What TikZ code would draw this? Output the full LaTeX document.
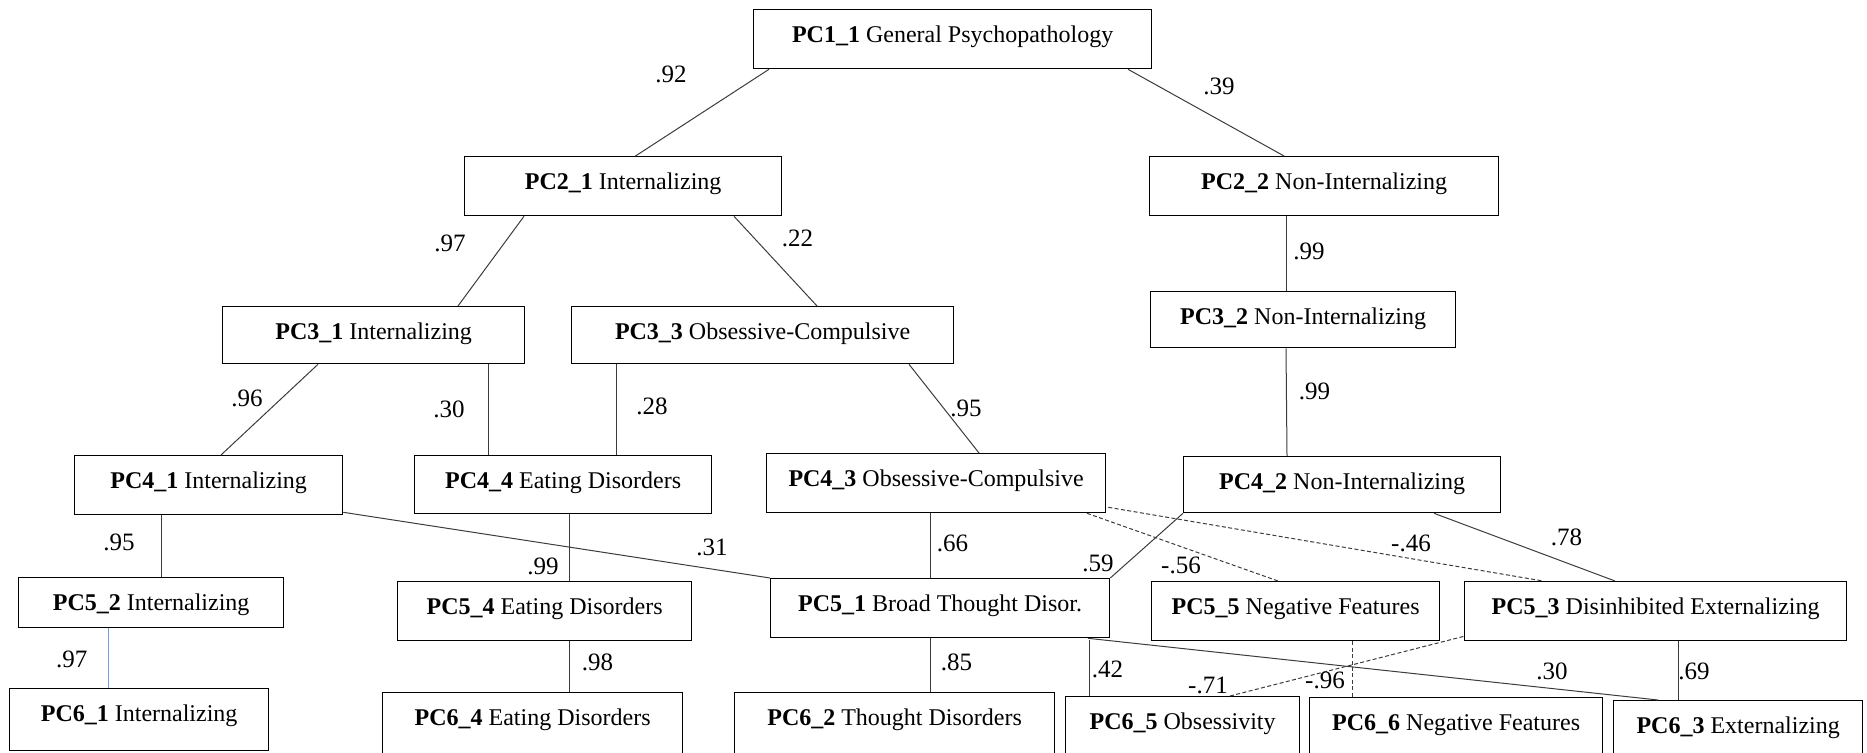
\documentclass[tikz,border=0pt]{standalone}
\usepackage{fontspec}
\setmainfont{Liberation Serif}
\usetikzlibrary{calc}
\definecolor{linegray}{RGB}{60,60,60}
\definecolor{lightblue}{RGB}{120,155,225}
\tikzset{
  pcbox/.style 2 args={draw=black, line width=0.65pt, anchor=north west, inner sep=0pt,
    minimum width=#1, text height=16.5pt, text depth=#2, font=\fontsize{12}{14}\selectfont},
  conn/.style={draw=linegray, line width=0.5pt},
  dconn/.style={draw=linegray, line width=0.5pt, dash pattern=on 2pt off 1.2pt},
  bconn/.style={draw=lightblue, line width=0.5pt},
  lbl/.style={anchor=base, inner sep=0pt, font=\fontsize{12.5}{14}\selectfont}
}
\begin{document}
\begin{tikzpicture}[x=0.5pt, y=-0.5pt]
\useasboundingbox (0,0) rectangle (1867,753);
\clip (0,0) rectangle (1867,753);
% boxes
\node[pcbox={199pt}{13pt}] (p11) at (753,9) {\textbf{PC1\_1} General Psychopathology};
\node[pcbox={158.5pt}{13pt}] (p21) at (464,156) {\textbf{PC2\_1} Internalizing};
\node[pcbox={174.5pt}{13pt}] (p22) at (1149,156) {\textbf{PC2\_2} Non-Internalizing};
\node[pcbox={151pt}{12pt}] (p31) at (222,306) {\textbf{PC3\_1} Internalizing};
\node[pcbox={191pt}{12pt}] (p33) at (571,306) {\textbf{PC3\_3} Obsessive-Compulsive};
\node[pcbox={152.5pt}{11.5pt}] (p32) at (1150,291) {\textbf{PC3\_2} Non-Internalizing};
\node[pcbox={134pt}{13pt}] (p41) at (74,455) {\textbf{PC4\_1} Internalizing};
\node[pcbox={148.5pt}{12.5pt}] (p44) at (414,455) {\textbf{PC4\_4} Eating Disorders};
\node[pcbox={169.5pt}{13pt}] (p43) at (766,453) {\textbf{PC4\_3} Obsessive-Compulsive};
\node[pcbox={158.5pt}{11.5pt}] (p42) at (1183,456) {\textbf{PC4\_2} Non-Internalizing};
\node[pcbox={132.5pt}{8.5pt}] (p52) at (18,577) {\textbf{PC5\_2} Internalizing};
\node[pcbox={147pt}{13pt}] (p54) at (397,581) {\textbf{PC5\_4} Eating Disorders};
\node[pcbox={169.5pt}{13pt}] (p51) at (770,578) {\textbf{PC5\_1} Broad Thought Disor.};
\node[pcbox={144pt}{13pt}] (p55) at (1151,581) {\textbf{PC5\_5} Negative Features};
\node[pcbox={191pt}{13pt}] (p53) at (1464,581) {\textbf{PC5\_3} Disinhibited Externalizing};
\node[pcbox={129.5pt}{14.5pt}] (p61) at (9,688) {\textbf{PC6\_1} Internalizing};
\node[pcbox={150pt}{33.5pt}] (p64) at (382,692) {\textbf{PC6\_4} Eating Disorders};
\node[pcbox={160pt}{33.5pt}] (p62) at (734,692) {\textbf{PC6\_2} Thought Disorders};
\node[pcbox={117pt}{33.5pt}] (p65) at (1065,696) {\textbf{PC6\_5} Obsessivity};
\node[pcbox={146.5pt}{33.5pt}] (p66) at (1309,697) {\textbf{PC6\_6} Negative Features};
\node[pcbox={124.5pt}{33.5pt}] (p63) at (1613,700) {\textbf{PC6\_3} Externalizing};
% connectors
\draw[conn] ($(p11.south west)+(16,0)$) -- ($(p21.north west)+(171.5,0)$);
\draw[conn] ($(p11.south west)+(375,0)$) -- ($(p22.north west)+(135,0)$);
\draw[conn] ($(p21.south west)+(60,0)$) -- ($(p31.north west)+(236,0)$);
\draw[conn] ($(p21.south west)+(270,0)$) -- ($(p33.north west)+(246,0)$);
\draw[conn] ($(p22.south west)+(137,0)$) -- ($(p32.north west)+(136,0)$);
\draw[conn] ($(p32.south west)+(136,0)$) -- ($(p42.north west)+(104,0)$);
\draw[conn] ($(p31.south west)+(96,0)$) -- ($(p41.north west)+(147,0)$);
\draw[conn] ($(p31.south west)+(266,0)$) -- ($(p44.north west)+(74,0)$);
\draw[conn] ($(p33.south west)+(45,0)$) -- ($(p44.north west)+(202,0)$);
\draw[conn] ($(p33.south west)+(338,0)$) -- ($(p43.north west)+(213,0)$);
\draw[conn] ($(p41.south west)+(87,0)$) -- ($(p52.north west)+(143,0)$);
\draw[conn] ($(p41.south east)+(0,-3)$) -- (p51.north west);
\draw[conn] ($(p44.south west)+(155,0)$) -- ($(p54.north west)+(172,0)$);
\draw[conn] ($(p43.south west)+(164,0)$) -- ($(p51.north west)+(160,0)$);
\draw[conn] (p42.south west) -- (p51.north east);
\draw[dconn] ($(p43.south west)+(321,0)$) -- ($(p55.north west)+(127,0)$);
\draw[dconn] ($(p43.south east)+(2,-6)$) -- ($(p53.north west)+(79,0)$);
\draw[conn] ($(p42.south west)+(251,0)$) -- ($(p53.north west)+(151,0)$);
\draw[conn] ($(p54.south west)+(172,0)$) -- ($(p64.north west)+(187,0)$);
\draw[conn] ($(p51.south west)+(160,0)$) -- ($(p62.north west)+(196,0)$);
\draw[conn] ($(p51.south west)+(319,2)$) -- ($(p65.north west)+(24,0)$);
\draw[conn] ($(p51.south west)+(318,0)$) -- ($(p63.north west)+(45,0)$);
\draw[dconn] ($(p65.north west)+(165,0)$) -- ($(p53.south west)+(0,-5)$);
\draw[dconn] ($(p55.south west)+(201,0)$) -- ($(p66.north west)+(43,0)$);
\draw[conn] ($(p53.south west)+(214,0)$) -- ($(p63.north west)+(65,0)$);
\draw[bconn] ($(p52.south west)+(90,0)$) -- ($(p61.north west)+(99,0)$);
% labels
\node[lbl] (l1) at (671,83) {.92};
\node[lbl] (l2) at (1219,95) {.39};
\node[lbl] (l3) at (450,252) {.97};
\node[lbl] (l4) at (797.6,246.7) {.22};
\node[lbl] (l5) at (1309,260) {.99};
\node[lbl] (l6) at (1314.5,400) {.99};
\node[lbl] (l7) at (247,407) {.96};
\node[lbl] (l8) at (449,417) {.30};
\node[lbl] (l9) at (652,415) {.28};
\node[lbl] (l10) at (966,416.7) {.95};
\node[lbl] (l11) at (119,550.7) {.95};
\node[lbl] (l12) at (712,555) {.31};
\node[lbl] (l13) at (543,574.7) {.99};
\node[lbl] (l14) at (952.5,551.7) {.66};
\node[lbl] (l15) at (1098,571.7) {.59};
\node[lbl] (l16) at (1181,573) {-.56};
\node[lbl] (l17) at (1411,551.7) {-.46};
\node[lbl] (l18) at (1566.5,545.7) {.78};
\node[lbl] (l19) at (597.5,670) {.98};
\node[lbl] (l20) at (956.5,670) {.85};
\node[lbl] (l21) at (1107.5,677) {.42};
\node[lbl] (l22) at (1208,693) {-.71};
\node[lbl] (l23) at (1325,688) {-.96};
\node[lbl] (l24) at (1552,679.7) {.30};
\node[lbl] (l25) at (1694,679.7) {.69};
\node[lbl] (l26) at (71.7,667) {.97};
\end{tikzpicture}
\end{document}
